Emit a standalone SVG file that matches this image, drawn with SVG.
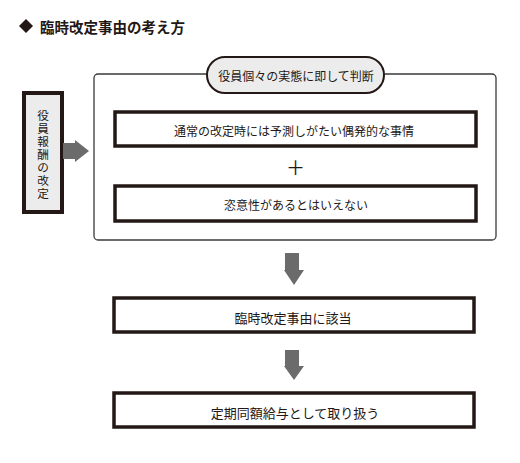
<svg xmlns="http://www.w3.org/2000/svg" width="520" height="463" viewBox="0 0 520 463">
<style>
text{font-family:"Noto Sans CJK JP","Noto Sans CJK SC",sans-serif;fill:#231815;dominant-baseline:central;text-anchor:middle}
.box{fill:#fff;stroke:#231815;stroke-width:3.5}
.t12{font-size:12px}
.t13{font-size:13px}
.v{font-family:"Liberation Sans","Noto Sans CJK JP",sans-serif;font-size:11.6px}
.arr{fill:#6b6b6b}
</style>
<rect width="520" height="463" fill="#fff"/>
<g id="title">
<polygon points="26,19 33,26 26,33 19,26" fill="#231815"/>
<text x="40" y="26" style="font-size:14.5px;font-weight:bold;text-anchor:start">臨時改定事由の考え方</text>
</g>
<g id="outer">
<rect x="94" y="74" width="402" height="166" rx="4" fill="#fff" stroke="#3a3a3a" stroke-width="1.3"/>
</g>
<g id="pill">
<rect x="207" y="57" width="177" height="36" rx="18" fill="#ececec" stroke="#231815" stroke-width="2"/>
<text class="t12" x="296" y="75">役員個々の実態に即して判断</text>
</g>
<g id="left">
<rect x="24" y="93" width="38" height="119" fill="#ececec" stroke="#231815" stroke-width="4"/>
<text class="v" x="43" y="115">役</text>
<text class="v" x="43" y="128">員</text>
<text class="v" x="43" y="141">報</text>
<text class="v" x="43" y="154">酬</text>
<text class="v" x="43" y="167">の</text>
<text class="v" x="43" y="180">改</text>
<text class="v" x="43" y="193">定</text>
</g>
<g id="cond1">
<rect class="box" x="115" y="112" width="361" height="34"/>
<text class="t12" x="294" y="130">通常の改定時には予測しがたい偶発的な事情</text>
</g>
<g id="plus">
<text x="295.5" y="166.5" style="font-size:19px">＋</text>
</g>
<g id="cond2">
<rect class="box" x="115" y="186" width="361" height="35"/>
<text class="t12" x="296" y="204">恣意性があるとはいえない</text>
</g>
<g id="result1">
<rect class="box" x="114" y="298" width="360" height="34"/>
<text class="t13" x="293" y="317">臨時改定事由に該当</text>
</g>
<g id="result2">
<rect class="box" x="114" y="393" width="360" height="34"/>
<text class="t13" x="295" y="412">定期同額給与として取り扱う</text>
</g>
<g id="connectors">
<polygon class="arr" points="63,143 75,143 75,140 89,151 75,162 75,159 63,159"/>
<polygon class="arr" points="285,253 299,253 299,270 304,270 294,285 284,270 285,270"/>
<polygon class="arr" points="285,350 299,350 299,366 304,366 294,380 284,366 285,366"/>
</g>
</svg>
